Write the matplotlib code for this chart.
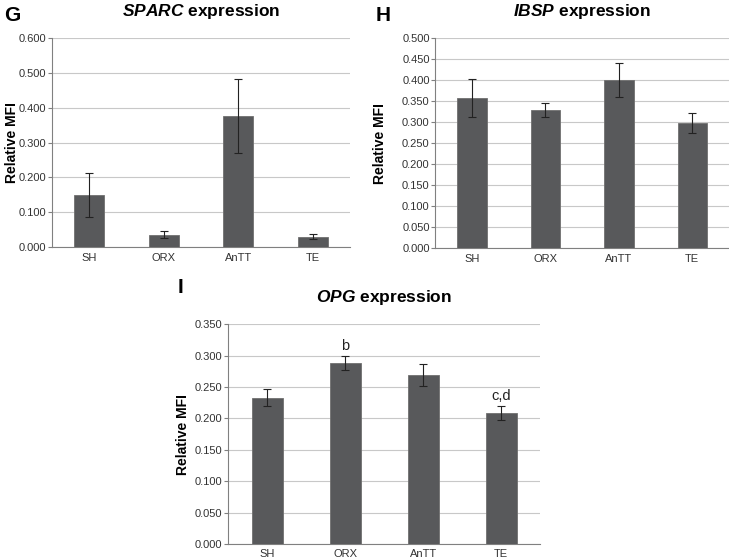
import matplotlib.pyplot as plt

plt.rcParams['font.family'] = ['Liberation Sans', 'DejaVu Sans']
plt.rcParams['mathtext.fontset'] = 'custom'
plt.rcParams['mathtext.rm'] = 'Liberation Sans'
plt.rcParams['mathtext.bf'] = 'Liberation Sans:bold'
plt.rcParams['mathtext.bfit'] = 'Liberation Sans:italic:bold'

groups = ['SH', 'ORX', 'AnTT', 'TE']

sparc = [0.150, 0.035, 0.376, 0.030]
sparc_err = [0.064, 0.010, 0.105, 0.008]

ibsp = [0.357, 0.329, 0.400, 0.298]
ibsp_err = [0.046, 0.016, 0.040, 0.024]

opg = [0.233, 0.288, 0.269, 0.208]
opg_err = [0.013, 0.011, 0.017, 0.011]
opg_marks = ['', 'b', '', 'c,d']

bar_col = '#58595b'
grid_col = '#c8c8c8'
spine_col = '#808080'


def panel(ax, vals, errs, ymax, step, gene, lab_x, marks=None):
    x = range(len(groups))
    ax.bar(x, vals, width=0.4, color=bar_col, edgecolor='#707070', linewidth=0.6, zorder=3)
    ax.errorbar(x, vals, yerr=errs, fmt='none', ecolor='#222222', elinewidth=0.8,
                capsize=3, capthick=0.8, zorder=4)
    ax.set_xlim(-0.5, len(groups) - 0.5)
    ax.set_ylim(0, ymax)
    ticks = [i * step for i in range(int(round(ymax / step)) + 1)]
    ax.set_yticks(ticks)
    ax.set_yticklabels(['%.3f' % t for t in ticks])
    ax.set_xticks(list(x))
    ax.set_xticklabels(groups)
    ax.tick_params(axis='y', labelsize=8, length=3, pad=1, color=spine_col, labelcolor='#333333')
    ax.tick_params(axis='x', labelsize=8, length=0, pad=4, labelcolor='#333333')
    ax.yaxis.grid(True, color=grid_col, linewidth=0.8, zorder=0)
    ax.set_axisbelow(True)
    for s in ['top', 'right']:
        ax.spines[s].set_visible(False)
    ax.spines['left'].set_color(spine_col)
    ax.spines['bottom'].set_color(spine_col)
    ax.set_ylabel('Relative MFI', fontsize=10, fontweight='bold')
    ax.yaxis.set_label_coords(lab_x, 0.5)
    ax.set_title(r'$\bfit{' + gene + r'}$ expression', fontsize=12.5, fontweight='bold', pad=16)
    if marks:
        for i, m in enumerate(marks):
            if m:
                ax.text(i, vals[i] + errs[i] + ymax * 0.015, m, ha='center', va='bottom',
                        fontsize=10.5, color='#222222')


fig = plt.figure(figsize=(7.29, 5.59), dpi=100)

ax1 = fig.add_axes([0.0713, 0.558, 0.409, 0.374])
panel(ax1, sparc, sparc_err, 0.6, 0.1, 'SPARC', -0.11)
ax2 = fig.add_axes([0.597, 0.556, 0.403, 0.376])
panel(ax2, ibsp, ibsp_err, 0.5, 0.05, 'IBSP', -0.164)
ax3 = fig.add_axes([0.313, 0.027, 0.428, 0.393])
panel(ax3, opg, opg_err, 0.35, 0.05, 'OPG', -0.122, opg_marks)

fig.text(0.005, 0.99, 'G', fontsize=15, fontweight='bold', va='top')
fig.text(0.515, 0.99, 'H', fontsize=15, fontweight='bold', va='top')
fig.text(0.243, 0.502, 'I', fontsize=15, fontweight='bold', va='top')

fig.savefig('out.png', dpi=100)
